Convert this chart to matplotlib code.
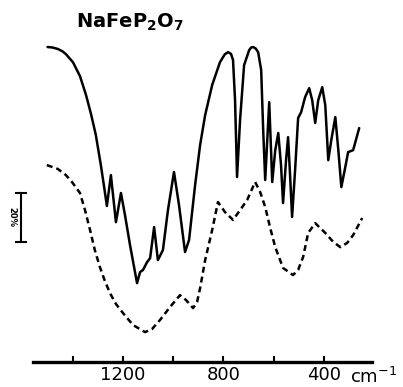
import matplotlib
matplotlib.use("Agg")
import matplotlib.pyplot as plt

plt.rcParams['font.family'] = ['DejaVu Sans']
plt.rcParams['mathtext.default'] = 'regular'

# IR spectrum of NaFeP2O7 (solid) and its dashed companion trace
# wavenumbers in cm-1, transmittance on an arbitrary % scale
solid_wn = [1500, 1480, 1459, 1440, 1427, 1399, 1371, 1347, 1327, 1308, 1288, 1276, 1264,
            1248, 1228, 1208, 1192, 1172, 1144, 1132, 1120, 1104, 1092, 1076,
            1061, 1041, 1021, 997, 977, 953, 937, 913, 893, 873, 845, 814, 795, 782,
            770, 762, 754, 746, 734, 718, 698, 690, 682, 672, 662, 650, 642, 634, 618, 606,
            594, 582, 571, 563, 551, 543, 535, 527, 515, 503, 491, 475, 459,
            447, 435, 423, 407, 395, 383, 371, 355, 343, 331, 316, 304, 284, 260]
solid_t = [128.6, 128.4, 127.8, 126.8, 125.7, 122.4, 116.7, 109.0, 101.2, 92.7, 80.4, 72.2, 63.7,
           76.3, 57.1, 69.0, 60.0, 47.8, 32.2, 36.7, 37.6, 40.8, 42.4, 55.1,
           41.6, 45.7, 62.0, 77.6, 64.1, 44.9, 49.8, 72.2, 88.6, 100.8, 113.1, 122.4, 125.6, 126.5,
           125.8, 123.3, 106.9, 75.5, 98.8, 121.2, 127.3, 128.4, 128.6, 128.0, 126.5, 119.2, 94.7, 74.3, 106.1, 73.5,
           86.5, 93.5, 80.4, 64.9, 82.4, 91.8, 76.3, 59.2, 78.4, 99.6, 102.0, 108.2, 111.8,
           106.9, 97.6, 106.9, 112.2, 104.9, 82.4, 90.6, 100.0, 86.5, 71.4, 79.2, 85.7, 86.5, 95.5]

dash_wn = [1503, 1459, 1427, 1403, 1371, 1351, 1331, 1312, 1292, 1272, 1252,
           1228, 1200, 1160, 1112, 1084, 1053, 1013, 973, 949, 921, 905, 893,
           873, 845, 822, 794, 762, 734, 706, 674, 654, 634, 614, 594, 563,
           523, 503, 483, 463, 435, 395, 363, 335, 308, 284, 248]
dash_t = [80.4, 78.8, 76.3, 73.5, 69.0, 62.0, 53.9, 45.7, 38.8, 33.1, 28.2,
          23.7, 20.0, 15.1, 12.2, 13.5, 17.1, 22.4, 27.3, 25.3, 22.0, 24.5, 30.2,
          41.6, 53.9, 65.3, 61.2, 58.0, 62.0, 66.1, 73.5, 69.4, 63.3, 54.7, 46.9, 38.4,
          35.5, 37.6, 42.9, 52.7, 56.7, 52.7, 49.0, 46.9, 48.6, 51.8, 58.8]

tick_pos = [1400, 1200, 1000, 800, 600, 400]
tick_lbl = ['', '1200', '', '800', '', '400']

fig = plt.figure(figsize=(4.03, 3.87), dpi=100)
ax = fig.add_axes([33 / 403, 25 / 387, 339 / 403, 362 / 387])

ax.plot(solid_wn, solid_t, color='black', lw=1.8,
        solid_joinstyle='round', solid_capstyle='round')
ax.plot(dash_wn, dash_t, color='black', lw=1.8, dashes=(2.4, 1.6))

ax.set_xlim(1558, 209)
ax.set_ylim(0, 147.8)

for s in ['top', 'left', 'right']:
    ax.spines[s].set_visible(False)
ax.spines['bottom'].set_linewidth(2.4)
ax.set_yticks([])
ax.set_xticks(tick_pos)
ax.set_xticklabels(tick_lbl)
ax.tick_params(axis='x', direction='in', length=4, width=1.5, pad=3,
               labelsize=13)

# unit label, right of the axis
fig.text(350 / 403, 1 - 383 / 387, 'cm$^{-1}$', ha='left', va='baseline', fontsize=13)

# 20% scale bar
bar_x = 1606
ax.plot([bar_x, bar_x], [49.0, 69.0], color='black', lw=1.5, clip_on=False)
ax.plot([bar_x - 20, bar_x + 20], [69.0, 69.0], color='black', lw=1.5, clip_on=False)
ax.plot([bar_x - 20, bar_x + 20], [49.0, 49.0], color='black', lw=1.5, clip_on=False)
ax.text(1642, 59, '20%', rotation=270, ha='center', va='center', fontsize=6,
        fontweight='bold', clip_on=False)

# compound label
ax.text(1172, 138.8, 'NaFeP$_2$O$_7$', ha='center', va='center', fontsize=14,
        fontweight='bold')

fig.savefig('out.png', dpi=100)
